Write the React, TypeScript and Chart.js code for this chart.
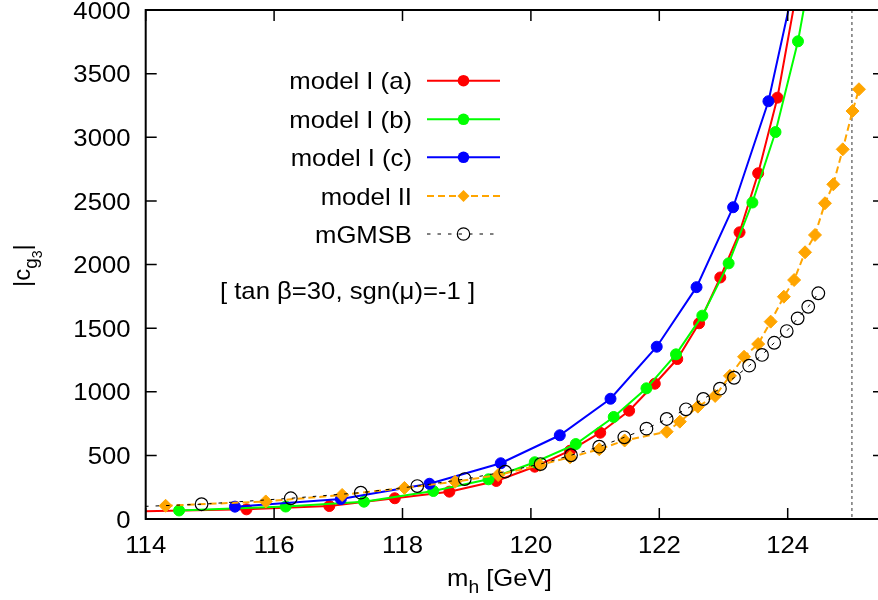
import React, { useEffect, useRef } from 'react';
import { Chart, registerables } from 'chart.js';

Chart.register(...registerables);

// ---------------- data ----------------
const xTickValues = [114, 116, 118, 120, 122, 124];
const yTickValues = [0, 500, 1000, 1500, 2000, 2500, 3000, 3500, 4000];
const xMin = 114;
const xMax = 125.5;
const yMin = 0;
const yMax = 4000;
const limitMh = 125;

const seriesNames = ['model I (a)', 'model I (b)', 'model I (c)', 'model II', 'mGMSB'];
const annotation = '[ tan \u03B2=30, sgn(\u03BC)=-1 ]';
const xTitleMain = 'm';
const xTitleSub = 'h';
const xTitleRest = ' [GeV]';

const aMh = [113.4, 115.57, 116.86, 117.88, 118.73, 119.46, 120.06, 120.61, 121.08, 121.53, 121.93, 122.28, 122.62, 122.95, 123.25, 123.54, 123.84, 124.14];
const aC = [55, 76, 102, 163, 215, 299, 411, 537, 678, 851, 1063, 1257, 1538, 1898, 2253, 2717, 3311, 4150];

const bMh = [114.52, 116.18, 117.4, 118.48, 119.34, 120.06, 120.7, 121.29, 121.8, 122.26, 122.67, 123.08, 123.45, 123.81, 124.16, 124.5];
const bC = [67, 98, 136, 220, 312, 446, 589, 802, 1027, 1294, 1598, 2009, 2487, 3041, 3754, 4700];

const cMh = [115.39, 117.04, 118.42, 119.53, 120.45, 121.24, 121.96, 122.58, 123.15, 123.7, 124.22];
const cC = [97, 157, 277, 438, 658, 945, 1354, 1822, 2450, 3283, 4480];

const iiMh = [114.31, 115.87, 117.06, 118.03, 118.82, 119.49, 120.14, 120.61, 121.065, 121.46, 122.115, 122.32, 122.6, 122.87, 123.1, 123.32, 123.54, 123.735, 123.94, 124.1, 124.27, 124.425, 124.58, 124.71, 124.857, 125.01, 125.11];
const iiC = [104, 138, 189, 244, 293, 346, 424, 485, 548, 617, 686, 765, 883, 967, 1125, 1275, 1375, 1551, 1747, 1878, 2096, 2232, 2481, 2630, 2905, 3206, 3377];

const gmMh = [113.5, 114.87, 116.26, 117.35, 118.23, 118.97, 119.6, 120.15, 120.625, 121.064, 121.455, 121.8, 122.115, 122.416, 122.685, 122.945, 123.164, 123.4, 123.6, 123.79, 123.985, 124.155, 124.32, 124.477];
const gmC = [90, 116, 163, 207, 259, 314, 372, 432, 501, 568, 642, 710, 786, 862, 943, 1024, 1110, 1205, 1289, 1385, 1477, 1577, 1668, 1774];

// ---------------- styling ----------------
const W = 900;
const H = 600;
const FONT = '"Liberation Sans", Arial, Helvetica, sans-serif';
const SX = 1.07;
const RED = '#ff0000';
const GREEN = '#00ff00';
const BLUE = '#0000ff';
const ORANGE = '#ffa500';
const BLACK = '#000000';

const zip = (xs: number[], ys: number[]) => xs.map((x, i) => ({ x, y: ys[i] }));

function stext(ctx: CanvasRenderingContext2D, s: string, x: number, y: number, align: CanvasTextAlign, size = 24) {
  ctx.save();
  ctx.font = `${size}px ${FONT}`;
  ctx.textAlign = align;
  ctx.textBaseline = 'alphabetic';
  ctx.fillStyle = '#000';
  ctx.scale(SX, 1);
  ctx.fillText(s, x / SX, y);
  ctx.restore();
}

function drawMarker(ctx: CanvasRenderingContext2D, kind: string, x: number, y: number, color: string) {
  ctx.save();
  ctx.setLineDash([]);
  if (kind === 'circle') {
    ctx.fillStyle = color;
    ctx.beginPath();
    ctx.arc(x, y, 5.8, 0, Math.PI * 2);
    ctx.fill();
  } else if (kind === 'diamond') {
    ctx.fillStyle = color;
    ctx.beginPath();
    ctx.moveTo(x - 6, y);
    ctx.lineTo(x, y - 6);
    ctx.lineTo(x + 6, y);
    ctx.lineTo(x, y + 6);
    ctx.closePath();
    ctx.fill();
  } else {
    ctx.strokeStyle = color;
    ctx.lineWidth = 1.2;
    ctx.beginPath();
    ctx.arc(x, y, 6.2, 0, Math.PI * 2);
    ctx.stroke();
  }
  ctx.restore();
}

const overlayPlugin = {
  id: 'overlay',
  beforeDatasetsDraw(chart: any) {
    const { ctx, chartArea, scales } = chart;
    const px = scales.x.getPixelForValue(limitMh);
    ctx.save();
    ctx.strokeStyle = '#777777';
    ctx.lineWidth = 1.5;
    ctx.setLineDash([3, 3]);
    ctx.beginPath();
    ctx.moveTo(px, chartArea.top);
    ctx.lineTo(px, chartArea.bottom);
    ctx.stroke();
    ctx.restore();
  },
  afterDraw(chart: any) {
    const { ctx, chartArea, scales } = chart;
    const { left, right, top, bottom } = chartArea;
    const xs = scales.x;
    const ys = scales.y;
    ctx.save();
    ctx.strokeStyle = '#000';
    ctx.lineWidth = 2;
    ctx.setLineDash([]);
    ctx.strokeRect(left, top, right - left, bottom - top);
    ctx.lineWidth = 1.5;
    const TL = 11;
    ctx.beginPath();
    xTickValues.forEach((v) => {
      const p = xs.getPixelForValue(v);
      ctx.moveTo(p, bottom);
      ctx.lineTo(p, bottom - TL);
      ctx.moveTo(p, top);
      ctx.lineTo(p, top + TL);
    });
    yTickValues.forEach((v) => {
      const p = ys.getPixelForValue(v);
      ctx.moveTo(left, p);
      ctx.lineTo(left + TL, p);
      ctx.moveTo(right, p);
      ctx.lineTo(right - TL, p);
    });
    ctx.stroke();
    ctx.restore();

    xTickValues.forEach((v) => {
      stext(ctx, String(v), xs.getPixelForValue(v), 553, 'center');
    });
    yTickValues.forEach((v) => {
      stext(ctx, String(v), 130.5, ys.getPixelForValue(v) + 8.7, 'right');
    });

    // x title
    {
      ctx.save();
      ctx.fillStyle = '#000';
      ctx.scale(SX, 1);
      let x = 447 / SX;
      const base = 586;
      ctx.textAlign = 'left';
      ctx.font = `24px ${FONT}`;
      ctx.fillText(xTitleMain, x, base);
      x += ctx.measureText(xTitleMain).width;
      ctx.font = `18px ${FONT}`;
      ctx.fillText(xTitleSub, x, base + 7);
      x += ctx.measureText(xTitleSub).width;
      ctx.font = `24px ${FONT}`;
      ctx.fillText(xTitleRest, x, base);
      ctx.restore();
    }

    // y title |c_{g_3}|
    {
      ctx.save();
      ctx.fillStyle = '#000';
      ctx.translate(30, 287);
      ctx.rotate(-Math.PI / 2);
      ctx.textAlign = 'left';
      let x = 0;
      const segs: [string, number, number][] = [['|c', 24, 0], ['g', 19, 7], ['3', 14, 12], ['|', 24, 0]];
      segs.forEach(([t, size, dy]) => {
        ctx.font = `${size}px ${FONT}`;
        ctx.fillText(t, x, dy);
        x += ctx.measureText(t).width;
      });
      ctx.restore();
    }

    // legend
    const rows = [80.7, 119.3, 157.3, 196, 234];
    chart.data.datasets.forEach((ds: any, i: number) => {
      const y = rows[i];
      stext(ctx, ds.label, 412, y + 8.6, 'right');
      ctx.save();
      ctx.strokeStyle = ds.borderColor;
      ctx.lineWidth = ds.borderWidth;
      ctx.setLineDash(ds.borderDash || []);
      ctx.beginPath();
      ctx.moveTo(427, y);
      ctx.lineTo(500, y);
      ctx.stroke();
      ctx.restore();
      drawMarker(ctx, ds.markerKind, 463.5, y, ds.borderColor);
    });

    stext(ctx, annotation, 347.5, 299, 'center');
  },
};

function makeDatasets() {
  return [
    {
      label: seriesNames[0], data: zip(aMh, aC), borderColor: RED, backgroundColor: RED,
      borderWidth: 2, pointRadius: 5.5, pointBorderWidth: 1, pointStyle: 'circle', order: 4, markerKind: 'circle',
    },
    {
      label: seriesNames[1], data: zip(bMh, bC), borderColor: GREEN, backgroundColor: GREEN,
      borderWidth: 2, pointRadius: 5.5, pointBorderWidth: 1, pointStyle: 'circle', order: 3, markerKind: 'circle',
    },
    {
      label: seriesNames[2], data: zip(cMh, cC), borderColor: BLUE, backgroundColor: BLUE,
      borderWidth: 2, pointRadius: 5.5, pointBorderWidth: 1, pointStyle: 'circle', order: 2, markerKind: 'circle',
    },
    {
      label: seriesNames[3], data: zip(iiMh, iiC), borderColor: ORANGE, backgroundColor: ORANGE,
      borderWidth: 2, borderDash: [7, 4], pointRadius: 6.5, pointBorderWidth: 1, pointStyle: 'rectRot', order: 1, markerKind: 'diamond',
    },
    {
      label: seriesNames[4], data: zip(gmMh, gmC), borderColor: BLACK, backgroundColor: 'rgba(0,0,0,0)',
      borderWidth: 1, borderDash: [3.5, 7], pointRadius: 6.3, pointBorderWidth: 1.2, pointStyle: 'circle', order: 0, markerKind: 'open',
      pointBorderColor: BLACK, pointBackgroundColor: 'rgba(0,0,0,0)',
    },
  ];
}

export default function App() {
  const ref = useRef<HTMLCanvasElement | null>(null);
  useEffect(() => {
    if (!ref.current) return;
    const chart = new Chart(ref.current, {
      type: 'line',
      data: { datasets: makeDatasets() as any },
      options: {
        animation: false,
        responsive: false,
        devicePixelRatio: 1,
        layout: { padding: { left: 0, top: 10, right: W - 884, bottom: 0 } },
        elements: { line: { tension: 0 } },
        plugins: { legend: { display: false }, tooltip: { enabled: false } },
        scales: {
          x: {
            type: 'linear', min: xMin, max: xMax,
            ticks: { display: false, stepSize: 2 },
            grid: { display: false, drawTicks: false },
            border: { display: false },
            afterFit: (s: any) => { s.height = 81; },
          },
          y: {
            type: 'linear', min: yMin, max: yMax,
            ticks: { display: false, stepSize: 500 },
            grid: { display: false, drawTicks: false },
            border: { display: false },
            afterFit: (s: any) => { s.width = 145.7; },
          },
        },
      } as any,
      plugins: [overlayPlugin],
    });
    return () => chart.destroy();
  }, []);
  return (
    <div style={{ position: 'fixed', left: 0, top: 0, width: 878, height: 600, overflow: 'hidden', background: '#fff' }}>
      <canvas ref={ref} width={W} height={H} style={{ width: W, height: H, display: 'block' }} />
    </div>
  );
}
